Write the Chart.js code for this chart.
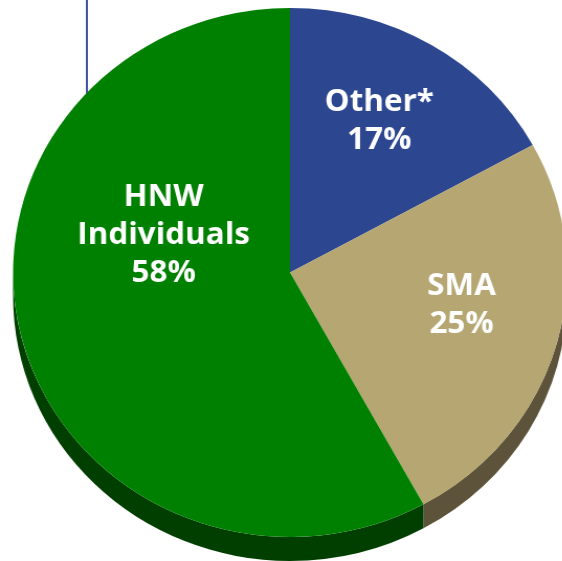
<!DOCTYPE html>
<html>
<head>
<meta charset="utf-8">
<script src="https://cdn.jsdelivr.net/npm/chart.js@4"></script>
<style>
    html, body { margin: 0; padding: 0; background: #fff; overflow: hidden; }
    #wrap { width: 545px; height: 561px; transform: scaleX(1.047); transform-origin: 0 0; }
</style>
</head>
<body>
<div id="wrap"><canvas id="pieChart" width="545" height="561"></canvas></div>
<script>
// data
const categories = [['Other*'], ['SMA'], ['HNW', 'Individuals']];
const shares = [17, 25, 58];
const faceColors = ['#2c4690', '#b5a672', '#008000'];
const sideColors = ['#1c2c5c', '#5c533a', '#003f00'];

// label anchor per slice: angle from top (deg, clockwise) and fraction of radius
const labelAnchors = [[29, 0.665], [100.5, 0.63], [288, 0.48]];

const depth = 24;

// side wall of the pie (the "3D" rim)
const rimPlugin = {
    id: 'rim',
    beforeDatasetsDraw(chart) {
        const ctx = chart.ctx;
        const arcs = chart.getDatasetMeta(0).data;

        // stray guide line at top left
        ctx.save();
        ctx.strokeStyle = '#3f51a3';
        ctx.lineWidth = 2;
        ctx.beginPath();
        ctx.moveTo(83, 0);
        ctx.lineTo(83, 95);
        ctx.stroke();
        ctx.restore();

        arcs.forEach((arc, i) => {
            const { x, y, outerRadius: r, startAngle, endAngle } = arc.getProps(['x', 'y', 'outerRadius', 'startAngle', 'endAngle'], true);
            const s = Math.max(startAngle, 0);
            const e = Math.min(endAngle, Math.PI);
            if (s >= e) return;
            ctx.save();
            ctx.fillStyle = sideColors[i];
            ctx.beginPath();
            ctx.moveTo(x + r * Math.cos(s), y + r * Math.sin(s));
            ctx.arc(x, y, r, s, e);
            ctx.lineTo(x + r * Math.cos(e), y + r * Math.sin(e) + depth);
            ctx.arc(x, y + depth, r, e, s, true);
            ctx.closePath();
            ctx.fill();
            ctx.restore();
        });
    },
    afterDatasetsDraw(chart) {
        const ctx = chart.ctx;
        const arcs = chart.getDatasetMeta(0).data;
        ctx.save();
        ctx.fillStyle = '#ffffff';
        ctx.font = 'bold 30px "Open Sans"';
        ctx.textAlign = 'center';
        ctx.textBaseline = 'alphabetic';
        arcs.forEach((arc, i) => {
            const { x, y, outerRadius: r } = arc.getProps(['x', 'y', 'outerRadius'], true);
            const a = labelAnchors[i][0] * Math.PI / 180;
            const cx = x + labelAnchors[i][1] * r * Math.sin(a);
            const cy = y - labelAnchors[i][1] * r * Math.cos(a);
            const lines = categories[i].concat([shares[i] + '%']);
            const lh = 38;
            const top = cy - (lines.length - 1) * lh / 2;
            lines.forEach((t, k) => {
                ctx.fillText(t, cx, top + k * lh + 11);
            });
        });
        ctx.restore();
    }
};

const chart = new Chart(document.getElementById('pieChart'), {
    type: 'pie',
    data: {
        labels: categories.map(c => c.join(' ')),
        datasets: [{
            data: shares,
            backgroundColor: faceColors,
            borderWidth: 0,
            hoverOffset: 0,
            offset: 0
        }]
    },
    options: {
        responsive: false,
        animation: false,
        events: [],
        layout: {
            padding: { left: 12.5, top: 8, right: 3.5, bottom: 24 }
        },
        plugins: {
            legend: { display: false },
            tooltip: { enabled: false }
        }
    },
    plugins: [rimPlugin]
});
</script>
</body>
</html>
